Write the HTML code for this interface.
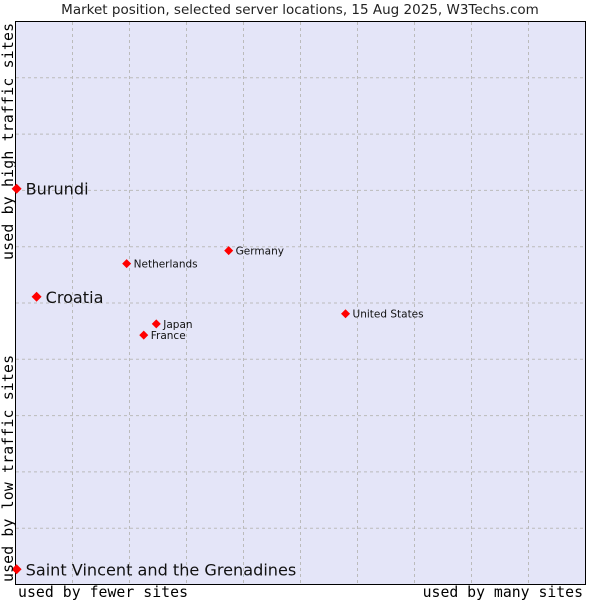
<!DOCTYPE html>
<html><head><meta charset="utf-8"><style>
body{margin:0;background:#fff;width:600px;height:600px;overflow:hidden}
svg{display:block;font-family:"DejaVu Sans","Liberation Sans",sans-serif}
</style></head><body>
<svg id="chart" width="600" height="600">
<text x="300" y="14" text-anchor="middle" font-size="13.5" fill="#222">Market position, selected server locations, 15 Aug 2025, W3Techs.com</text>
<rect x="15.5" y="21.5" width="570" height="563" fill="#e4e5f8" stroke="#000" stroke-width="1"/>
<g id="grid"></g>
<g id="points"></g>
<text x="18" y="597" font-family="DejaVu Sans Mono,monospace" font-size="14.8" textLength="170">used by fewer sites</text>
<text x="583" y="597" text-anchor="end" font-family="DejaVu Sans Mono,monospace" font-size="14.8">used by many sites</text>
<text transform="translate(13,260) rotate(-90)" font-family="DejaVu Sans Mono,monospace" font-size="14.8" textLength="237">used by high traffic sites</text>
<text transform="translate(13,582) rotate(-90)" font-family="DejaVu Sans Mono,monospace" font-size="14.8" textLength="227">used by low traffic sites</text>
</svg>
<script>
const names=["Burundi","Croatia","Netherlands","Germany","United States","Japan","France","Saint Vincent and the Grenadines"];
const xVals=[0.2,3.7,19.5,37.4,57.9,24.7,22.5,0.2];
const yVals=[70.3,51.1,57.0,59.3,48.1,46.3,44.3,2.7];
const highlight=[true,true,false,false,false,false,false,true];
const gridTicks=[10,20,30,40,50,60,70,80,90];
const NS="http://www.w3.org/2000/svg";
const sx=v=>15.5+v*5.7, sy=v=>584.5-v*5.63;
const grid=document.getElementById('grid'), pts=document.getElementById('points');
gridTicks.forEach(t=>{
  let l=document.createElementNS(NS,'line');
  l.setAttribute('x1',sx(t));l.setAttribute('x2',sx(t));l.setAttribute('y1',22);l.setAttribute('y2',584);
  l.setAttribute('stroke','#bbb');l.setAttribute('stroke-dasharray','3,3');
  
  
  grid.appendChild(l);
  let h=document.createElementNS(NS,'line');
  h.setAttribute('y1',sy(t));h.setAttribute('y2',sy(t));h.setAttribute('x1',16);h.setAttribute('x2',585);
  h.setAttribute('stroke','#bbb');h.setAttribute('stroke-dasharray','3,3');
  
  
  grid.appendChild(h);
});
names.forEach((n,i)=>{
  const x=sx(xVals[i]),y=sy(yVals[i]);
  let p=document.createElementNS(NS,'polygon');
  const r=highlight[i]?5:4.5;
  p.setAttribute('points',`${x},${y-r} ${x+r},${y} ${x},${y+r} ${x-r},${y}`);
  p.setAttribute('fill','#f00');
  
  
  pts.appendChild(p);
  let t=document.createElementNS(NS,'text');
  t.setAttribute('x',x+(highlight[i]?9:7));t.setAttribute('y',y+(highlight[i]?6:4));
  t.setAttribute('font-size',highlight[i]?16.1:10.5);t.setAttribute('fill','#111');
  t.textContent=n;
  
  
  pts.appendChild(t);
});
</script>
</body></html>
